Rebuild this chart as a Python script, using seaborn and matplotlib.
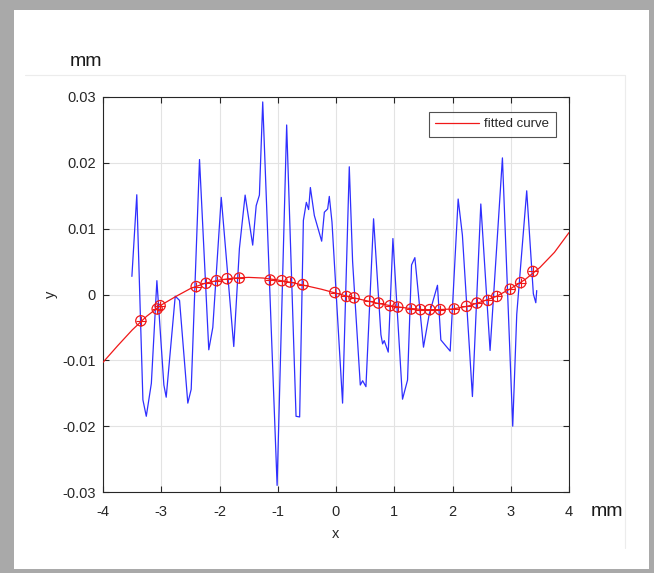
import numpy as np
import pandas as pd
import matplotlib
matplotlib.use("Agg")
import matplotlib.pyplot as plt
import seaborn as sns
from matplotlib.lines import Line2D
from matplotlib.patches import Rectangle

# ---- data ----
blue_x = [-3.504, -3.42, -3.315, -3.257, -3.17, -3.075, -2.955, -2.915, -2.76, -2.686,
          -2.544, -2.486, -2.343, -2.184, -2.115, -1.97, -1.755, -1.658, -1.56, -1.43,
          -1.37, -1.315, -1.258, -1.011, -0.847, -0.686, -0.624, -0.56, -0.509, -0.47,
          -0.44, -0.372, -0.246, -0.20, -0.143, -0.115, -0.069, 0.113, 0.228, 0.285,
          0.417, 0.457, 0.514, 0.645, 0.771, 0.80, 0.828, 0.897, 0.977, 1.142,
          1.228, 1.297, 1.354, 1.502, 1.60, 1.742, 1.80, 1.96, 2.097, 2.17,
          2.342, 2.486, 2.645, 2.857, 3.034, 3.103, 3.274, 3.388, 3.43, 3.446]
blue_y = [0.00275, 0.01515, -0.0160, -0.0185, -0.0135, 0.0021, -0.01375, -0.0156, -0.00025, -0.0009,
          -0.0165, -0.0144, 0.0205, -0.0084, -0.0050, 0.01475, -0.0079, 0.0070, 0.0151, 0.0075,
          0.0135, 0.0151, 0.02925, -0.0290, 0.02575, -0.0185, -0.0186, 0.01125, 0.0140, 0.0129,
          0.01625, 0.0120, 0.0081, 0.0125, 0.0130, 0.0149, 0.0110, -0.0165, 0.0194, 0.0050,
          -0.01375, -0.0131, -0.0140, 0.0115, -0.0061, -0.0075, -0.0070, -0.00875, 0.0085, -0.0159,
          -0.0130, 0.0045, 0.0056, -0.0080, -0.0030, 0.0014, -0.0069, -0.0086, 0.0145, 0.0090,
          -0.0155, 0.01375, -0.0085, 0.02075, -0.0200, -0.0030, 0.01575, 0.0001, -0.00125, 0.0006]

curve_x = [-4.00, -3.75, -3.50, -3.25, -3.00, -2.75, -2.50, -2.25, -2.00, -1.75, -1.50,
           -1.25, -1.00, -0.75, -0.50, -0.25, 0.00, 0.25, 0.50, 0.75, 1.00, 1.25,
           1.50, 1.75, 2.00, 2.25, 2.50, 2.75, 3.00, 3.25, 3.50, 3.75, 4.00]
curve_y = [-0.0103, -0.0078, -0.0054, -0.0033, -0.0016, -0.0003, 0.0009, 0.0017, 0.0022, 0.0025, 0.0026,
           0.0025, 0.0022, 0.0018, 0.0013, 0.0008, 0.0002, -0.0004, -0.0009, -0.0014, -0.0018, -0.0021,
           -0.0023, -0.0023, -0.0022, -0.0018, -0.0011, -0.0003, 0.0009, 0.0023, 0.0041, 0.0064, 0.0094]

mark_x = [-3.35, -3.07, -3.02, -2.40, -2.23, -2.05, -1.87, -1.66, -1.13, -0.93, -0.79, -0.57,
          -0.02, 0.18, 0.31, 0.57, 0.73, 0.93, 1.06, 1.29, 1.45, 1.61, 1.79, 2.03, 2.24,
          2.42, 2.61, 2.76, 2.99, 3.17, 3.38]
mark_y = [-0.0040, -0.0022, -0.0017, 0.0012, 0.0017, 0.0021, 0.0024, 0.0025, 0.0022, 0.0021, 0.0019, 0.0015,
          0.0003, -0.0003, -0.0005, -0.0010, -0.0013, -0.0017, -0.0019, -0.0022, -0.0023, -0.0023, -0.0023,
          -0.0022, -0.0018, -0.0013, -0.0009, -0.0003, 0.0008, 0.0018, 0.0035]

x_ticks = [-4, -3, -2, -1, 0, 1, 2, 3, 4]
x_tick_labels = ["-4", "-3", "-2", "-1", "0", "1", "2", "3", "4"]
y_ticks = [-0.03, -0.02, -0.01, 0.0, 0.01, 0.02, 0.03]
y_tick_labels = ["-0.03", "-0.02", "-0.01", "0", "0.01", "0.02", "0.03"]

sns.set_theme(style="white")
plt.rcParams["font.family"] = ["Liberation Sans", "DejaVu Sans"]
plt.rcParams["axes.unicode_minus"] = False

W, H = 654, 573
fig = plt.figure(figsize=(W / 100, H / 100), dpi=100, facecolor="#a9a9a9")
# white inner panel
fig.patches.append(Rectangle((14 / W, 1 - 569 / H), (649 - 14) / W, (569 - 10) / H,
                             transform=fig.transFigure, facecolor="white", edgecolor="none", zorder=-10))
# faint frame lines
fig.add_artist(Line2D([25 / W, 625 / W], [1 - 75 / H, 1 - 75 / H], transform=fig.transFigure,
                      color="#ececec", lw=0.8, zorder=-5))
fig.add_artist(Line2D([625 / W, 625 / W], [1 - 75 / H, 1 - 548 / H], transform=fig.transFigure,
                      color="#ececec", lw=0.8, zorder=-5))

ax = fig.add_axes([103 / W, 1 - 492 / H, (569 - 103) / W, (492 - 97) / H])
ax.set_zorder(1)
ax.set_facecolor("white")

blue_df = pd.DataFrame({"x": blue_x, "y": blue_y})
curve_df = pd.DataFrame({"x": curve_x, "y": curve_y})
mark_df = pd.DataFrame({"x": mark_x, "y": mark_y})

sns.lineplot(data=blue_df, x="x", y="y", sort=False, estimator=None, color="#2f2fff",
             lw=0.9, ax=ax, zorder=3)
sns.lineplot(data=curve_df, x="x", y="y", sort=False, estimator=None, color="#f01818",
             lw=0.9, ax=ax, zorder=4)
sns.scatterplot(data=mark_df, x="x", y="y", marker="o", s=55, facecolors="none",
                edgecolor="#f01818", linewidth=0.9, ax=ax, zorder=5)
sns.scatterplot(data=mark_df, x="x", y="y", marker="+", s=55, color="#f01818",
                linewidth=0.8, ax=ax, zorder=5)

ax.set_xlim(-4, 4)
ax.set_ylim(-0.03, 0.03)
ax.set_xticks(x_ticks)
ax.set_xticklabels(x_tick_labels)
ax.set_yticks(y_ticks)
ax.set_yticklabels(y_tick_labels)
ax.grid(True, color="#e3e3e3", lw=0.8)
ax.set_axisbelow(True)
for s in ax.spines.values():
    s.set_color("#262626")
    s.set_linewidth(0.8)
ax.tick_params(direction="in", length=4, width=0.8, color="#262626", top=True, right=True,
               bottom=True, left=True, labelsize=10.5, labelcolor="#262626")
ax.tick_params(axis="x", pad=9)
ax.tick_params(axis="y", pad=5)
ax.set_xlabel("x", fontsize=10.5, color="#262626", labelpad=6)
ax.set_ylabel("y", fontsize=10.5, color="#262626", labelpad=3)

ax.legend(handles=[Line2D([0], [0], color="#f01818", lw=0.9)], labels=["fitted curve"],
          loc="upper right", bbox_to_anchor=(0.9715, 0.963), borderaxespad=0,
          fontsize=9.5, frameon=True, fancybox=False, edgecolor="#262626",
          handlelength=3.3, handletextpad=0.4, borderpad=0.5)
ax.get_legend().get_frame().set_linewidth(0.8)

fig.text(86 / W, 1 - 62 / H, "mm", fontsize=14, ha="center", va="center", color="#1a1a1a")
fig.text(607 / W, 1 - 511 / H, "mm", fontsize=14, ha="center", va="center", color="#1a1a1a")

fig.savefig("out.png", dpi=100, facecolor=fig.get_facecolor())
